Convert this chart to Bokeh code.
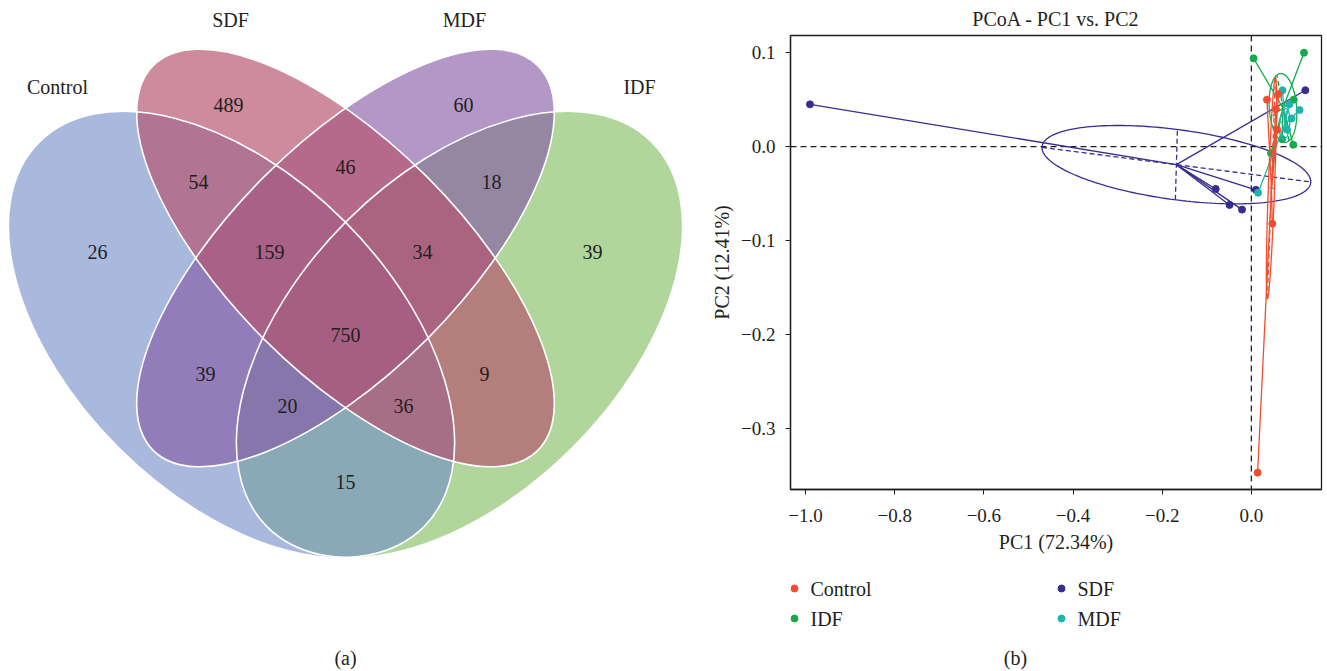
import numpy as np
from bokeh.plotting import figure
from bokeh.layouts import row, column
from bokeh.models import Range1d, FixedTicker, CustomJSTickFormatter, Span
from bokeh.core.properties import value
from bokeh.embed import file_html
from bokeh.resources import INLINE

FONT = "Liberation Serif"
INK = "#231f20"

# ------------------------------------------------------------------ data
# (a) Venn diagram
venn_sets = ["Control", "SDF", "MDF", "IDF"]
venn_regions = ["C", "S", "M", "I", "CS", "SM", "MI", "CSM", "SMI",
                "CSMI", "CM", "SI", "CMI", "CSI", "CI"]
venn_counts = [26, 489, 60, 39, 54, 46, 18, 159, 34, 750, 39, 9, 20, 36, 15]

# (b) PCoA
groups = ["Control", "IDF", "SDF", "MDF"]
control_pc1 = [0.014, 0.047, 0.035, 0.061, 0.055, 0.058]
control_pc2 = [-0.347, -0.082, 0.050, 0.056, 0.040, 0.018]
idf_pc1 = [0.005, 0.118, 0.094, 0.069, 0.044, 0.095]
idf_pc2 = [0.094, 0.100, 0.002, 0.008, -0.007, 0.050]
sdf_pc1 = [-0.990, -0.080, -0.049, -0.021, 0.010, 0.121]
sdf_pc2 = [0.045, -0.045, -0.062, -0.067, -0.046, 0.060]
mdf_pc1 = [0.015, 0.070, 0.108, 0.080, 0.090, 0.085]
mdf_pc2 = [-0.049, 0.060, 0.039, 0.018, 0.030, 0.045]
# confidence ellipses: semi-major, semi-minor, orientation (rad)
ellipse_major = [0.118, 0.0375, 0.302, 0.017]
ellipse_minor = [0.007, 0.030, 0.0375, 0.011]
ellipse_angle = [1.494, 1.939, -0.061, 1.30]
pc1_ticks = [-1.0, -0.8, -0.6, -0.4, -0.2, 0.0]
pc2_ticks = [-0.3, -0.2, -0.1, 0.0, 0.1]
pc1_title = "PC1 (72.34%)"
pc2_title = "PC2 (12.41%)"
plot_title = "PCoA - PC1 vs. PC2"

# ------------------------------------------------------------------ (a) Venn
# geometry in page pixels (y downwards); styles
venn_geom = {
    "Control": dict(cx=231, cy=334, a=272, b=160, down_right=True),
    "SDF": dict(cx=345, cy=257.5, a=272, b=115, down_right=True),
    "MDF": dict(cx=345, cy=257.5, a=272, b=115, down_right=False),
    "IDF": dict(cx=459, cy=334, a=272, b=160, down_right=False),
}
venn_style = {
    "IDF": ("#7BBB58", 0.60),
    "Control": ("#708AC8", 0.60),
    "MDF": ("#8457A5", 0.62),
    "SDF": ("#B5546F", 0.68),
}
draw_order = ["IDF", "Control", "MDF", "SDF"]
region_pos = {
    "C": (97, 251), "S": (228, 104), "M": (463, 104), "I": (592, 251),
    "CS": (198, 181), "SM": (345, 166), "MI": (491, 181),
    "CSM": (269, 251), "SMI": (422, 251), "CSMI": (345, 334),
    "CM": (205, 373), "SI": (484, 373), "CMI": (287, 405), "CSI": (403, 405),
    "CI": (345, 481),
}
set_label_pos = {"Control": (57, 86), "SDF": (230, 19), "MDF": (464, 19), "IDF": (639, 86)}

va = figure(width=708, height=671, x_range=Range1d(0, 708), y_range=Range1d(-671, 0),
            output_backend="svg", toolbar_location=None, x_axis_location=None,
            y_axis_location=None, min_border=0, outline_line_color=None)
va.grid.visible = False

for name in draw_order:
    g = venn_geom[name]
    col, alp = venn_style[name]
    ang = -np.pi / 4 if g["down_right"] else np.pi / 4
    va.ellipse(x=[g["cx"]], y=[-g["cy"]], width=[2 * g["a"]], height=[2 * g["b"]],
               angle=[ang], fill_color=col, fill_alpha=alp, line_color=None)
for name in draw_order:
    g = venn_geom[name]
    ang = -np.pi / 4 if g["down_right"] else np.pi / 4
    va.ellipse(x=[g["cx"]], y=[-g["cy"]], width=[2 * g["a"]], height=[2 * g["b"]],
               angle=[ang], fill_color=None, line_color="white", line_width=1.6)

va.text(x=[region_pos[r][0] for r in venn_regions],
        y=[-region_pos[r][1] for r in venn_regions],
        text=[str(c) for c in venn_counts],
        text_align="center", text_baseline="middle", text_font=value(FONT),
        text_font_size="20px", text_color=INK)
va.text(x=[set_label_pos[s][0] for s in venn_sets],
        y=[-set_label_pos[s][1] for s in venn_sets],
        text=venn_sets, text_align="center", text_baseline="middle",
        text_font=value(FONT), text_font_size="20px", text_color=INK)
va.text(x=[345], y=[-657], text=["(a)"], text_align="center", text_baseline="middle",
        text_font=value(FONT), text_font_size="20px", text_color=INK)

# ------------------------------------------------------------------ (b) PCoA
colors = {"Control": "#F04E2F", "IDF": "#18A94D", "SDF": "#372C8F", "MDF": "#1DB4AC"}
pts = {
    "Control": (control_pc1, control_pc2),
    "IDF": (idf_pc1, idf_pc2),
    "SDF": (sdf_pc1, sdf_pc2),
    "MDF": (mdf_pc1, mdf_pc2),
}
ell = {g: (ellipse_major[i], ellipse_minor[i], ellipse_angle[i]) for i, g in enumerate(groups)}

pc = figure(width=619, height=560, x_range=Range1d(-1.0337, 0.1573),
            y_range=Range1d(-0.3649, 0.1183), output_backend="svg",
            toolbar_location=None, min_border_left=82, min_border_right=6,
            min_border_top=35, min_border_bottom=71, title=plot_title)
pc.grid.visible = False
pc.outline_line_color = INK
pc.outline_line_width = 1.3
pc.title.text_font = FONT
pc.title.text_font_size = "20px"
pc.title.text_font_style = "normal"
pc.title.text_color = INK
pc.title.align = "center"
pc.title.standoff = 11
pc.title.offset = 0

fmt = CustomJSTickFormatter(code="return tick.toFixed(1).replace('-', '\\u2212');")
pc.xaxis.ticker = FixedTicker(ticks=pc1_ticks)
pc.yaxis.ticker = FixedTicker(ticks=pc2_ticks)
for ax in (pc.xaxis, pc.yaxis):
    ax.formatter = fmt
    ax.major_tick_out = 5
    ax.major_tick_in = 0
    ax.minor_tick_out = 0
    ax.minor_tick_in = 0
    ax.axis_line_color = INK
    ax.axis_line_width = 1.3
    ax.major_tick_line_color = INK
    ax.major_label_text_font = FONT
    ax.major_label_text_font_size = "19px"
    ax.major_label_text_color = INK
    ax.axis_label_text_font = FONT
    ax.axis_label_text_font_size = "20px"
    ax.axis_label_text_font_style = "normal"
    ax.axis_label_text_color = INK
pc.xaxis.axis_label = pc1_title
pc.yaxis.axis_label = pc2_title
pc.xaxis.major_label_standoff = 14
pc.xaxis.axis_label_standoff = 6
pc.yaxis.major_label_standoff = 10
pc.yaxis.axis_label_standoff = 5

pc.add_layout(Span(location=0, dimension="height", line_color=INK, line_dash="6 4",
                   line_width=1.3, level="underlay"))
pc.add_layout(Span(location=0, dimension="width", line_color=INK, line_dash="6 4",
                   line_width=1.3, level="underlay"))

t = np.linspace(0, 2 * np.pi, 200)
for g in ["SDF", "IDF", "MDF", "Control"]:
    xs, ys = np.array(pts[g][0]), np.array(pts[g][1])
    cx, cy = xs.mean(), ys.mean()
    a, b, phi = ell[g]
    c = colors[g]
    ex = cx + a * np.cos(t) * np.cos(phi) - b * np.sin(t) * np.sin(phi)
    ey = cy + a * np.cos(t) * np.sin(phi) + b * np.sin(t) * np.cos(phi)
    pc.line(ex, ey, line_color=c, line_width=1.3)
    pc.segment(x0=[cx - a * np.cos(phi), cx + b * np.sin(phi)],
               y0=[cy - a * np.sin(phi), cy - b * np.cos(phi)],
               x1=[cx + a * np.cos(phi), cx - b * np.sin(phi)],
               y1=[cy + a * np.sin(phi), cy + b * np.cos(phi)],
               line_color=c, line_width=1.3, line_dash="5 3")
    pc.segment(x0=[cx] * len(xs), y0=[cy] * len(xs), x1=xs, y1=ys,
               line_color=c, line_width=1.3)
    pc.scatter(xs, ys, size=7, fill_color=c, line_color=c)

# legend panel (its frame is aligned with the PCoA frame: page x 790..1321)
lg = figure(width=619, height=111, x_range=Range1d(790, 1321), y_range=Range1d(-671, -560),
            output_backend="svg", toolbar_location=None, x_axis_location=None,
            y_axis_location=None, min_border=0, outline_line_color=None)
lg.grid.visible = False
legend_order = ["Control", "IDF", "SDF", "MDF"]
lx = [794 + 267 * (i // 2) for i in range(4)]
ly = [-(588 + 30 * (i % 2)) for i in range(4)]
lg.scatter(lx, ly, size=7, fill_color=[colors[g] for g in legend_order],
           line_color=[colors[g] for g in legend_order])
lg.text(x=[v + 16 for v in lx], y=ly, text=legend_order, text_align="left",
        text_baseline="middle", text_font=value(FONT), text_font_size="20px",
        text_color=INK)
lg.text(x=[1015], y=[-657], text=["(b)"], text_align="center", text_baseline="middle",
        text_font=value(FONT), text_font_size="20px", text_color=INK)

layout = row(va, column(pc, lg))
open("out.html", "w").write(file_html(layout, INLINE))
